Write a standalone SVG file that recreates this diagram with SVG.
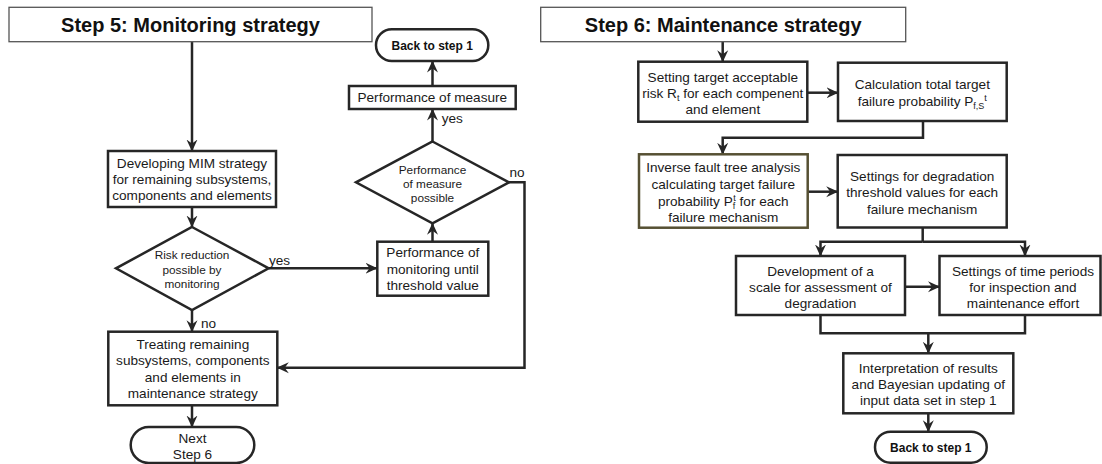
<svg xmlns="http://www.w3.org/2000/svg" width="1102" height="464" viewBox="0 0 1102 464">
<defs>
<marker id="ah" viewBox="0 0 12 12" refX="11.5" refY="6" markerWidth="12" markerHeight="12" markerUnits="userSpaceOnUse" orient="auto">
<path d="M0,0.5 L12,6 L0,11.5 L4,6 Z" fill="#262626"/>
</marker>
<style>
.hd{fill:#fff;stroke:#555;stroke-width:1.3}
.hdt{font-family:"Liberation Sans",Arial,sans-serif;font-weight:bold;font-size:20px;fill:#111;text-anchor:middle}
.bx{fill:#fff;stroke:#262626;stroke-width:2.5}
.ol{fill:#fff;stroke:#565033;stroke-width:2.5}
.t{font-family:"Liberation Sans",Arial,sans-serif;font-size:13.6px;fill:#1a1a1a;text-anchor:middle}
.dt{font-family:"Liberation Sans",Arial,sans-serif;font-size:11.8px;fill:#1a1a1a;text-anchor:middle}
.lb{font-family:"Liberation Sans",Arial,sans-serif;font-size:13.6px;fill:#1a1a1a}
.tb{font-family:"Liberation Sans",Arial,sans-serif;font-size:12px;font-weight:bold;fill:#111;text-anchor:middle}
.sub{font-size:9px}
.c{fill:none;stroke:#262626;stroke-width:2.5}
.ca{fill:none;stroke:#262626;stroke-width:2.5;marker-end:url(#ah)}
</style>
</defs>
<rect width="1102" height="464" fill="#fff"/>

<g id="connectors">
<path class="ca" d="M192,41.7 V151"/>
<path class="ca" d="M192,207 V227"/>
<path class="ca" d="M268.6,268.3 H377"/>
<path class="ca" d="M432.5,241.7 V223.3"/>
<path class="ca" d="M432.5,141.5 V109"/>
<path class="ca" d="M432.5,86 V61"/>
<path class="ca" d="M509,182.3 H524.5 V367.7 H277.3"/>
<path class="ca" d="M192,310 V331.7"/>
<path class="ca" d="M192,405.3 V427"/>
<path class="ca" d="M722.7,41.7 V61.7"/>
<path class="ca" d="M807.3,92.7 H838"/>
<path class="ca" d="M923,121 V137.7 H722.7 V154.3"/>
<path class="ca" d="M807.7,191.7 H837.7"/>
<path class="c" d="M922.7,227.5 V241.7"/>
<path class="ca" d="M922.7,241.7 H820.5 V256"/>
<path class="ca" d="M922.7,241.7 H1025 V256"/>
<path class="ca" d="M905,286.7 H939.5"/>
<path class="c" d="M820.5,315 V333.3 H1025 V315"/>
<path class="ca" d="M928.3,333.3 V353.3"/>
<path class="ca" d="M928.3,413.3 V431.7"/>
</g>

<g id="header5">
<rect class="hd" x="9" y="7.3" width="363" height="34.4"/>
<text class="hdt" x="190.5" y="31.5">Step 5: Monitoring strategy</text>
</g>
<g id="header6">
<rect class="hd" x="540.7" y="7.3" width="365" height="34.4"/>
<text class="hdt" x="723.2" y="31.5">Step 6: Maintenance strategy</text>
</g>

<g id="developing">
<rect class="bx" x="108" y="151" width="168" height="56"/>
<text class="t" x="192" y="167.5">Developing MIM strategy</text>
<text class="t" x="192" y="183.8">for remaining subsystems,</text>
<text class="t" x="192" y="200.1">components and elements</text>
</g>
<g id="riskdiamond">
<polygon class="bx" points="192,227 268.6,268.3 192,310 116,268.3"/>
<text class="dt" x="192" y="259.2">Risk reduction</text>
<text class="dt" x="192" y="273.5">possible by</text>
<text class="dt" x="192" y="288.2">monitoring</text>
</g>
<g id="monitoring">
<rect class="bx" x="377.3" y="241.7" width="111" height="54"/>
<text class="t" x="432.8" y="257.2">Performance of</text>
<text class="t" x="432.8" y="273.5">monitoring until</text>
<text class="t" x="432.8" y="289.8">threshold value</text>
</g>
<g id="measurediamond">
<polygon class="bx" points="432.5,141.5 509,182.3 432.5,223.3 356,182.3"/>
<text class="dt" x="432.5" y="173.5">Performance</text>
<text class="dt" x="432.5" y="187.5">of measure</text>
<text class="dt" x="432.5" y="201.5">possible</text>
</g>
<g id="measure">
<rect class="bx" x="349" y="86" width="166.7" height="23"/>
<text class="t" x="432.3" y="102.3">Performance of measure</text>
</g>
<g id="back1">
<rect class="bx" x="376" y="29.3" width="112.3" height="31.7" rx="15.8"/>
<text class="tb" x="432.2" y="49.5">Back to step 1</text>
</g>
<g id="treating">
<rect class="bx" x="108.3" y="331.7" width="169" height="73.6"/>
<text class="t" x="192.8" y="348.8">Treating remaining</text>
<text class="t" x="192.8" y="365.1">subsystems, components</text>
<text class="t" x="192.8" y="381.5">and elements in</text>
<text class="t" x="192.8" y="397.8">maintenance strategy</text>
</g>
<g id="next6">
<rect class="bx" x="130.7" y="427" width="123.6" height="36" rx="18"/>
<text class="t" x="192.5" y="443">Next</text>
<text class="t" x="192.5" y="459">Step 6</text>
</g>
<g id="labels">
<text class="lb" x="269" y="264.8">yes</text>
<text class="lb" x="441.7" y="122.5">yes</text>
<text class="lb" x="509.5" y="177">no</text>
<text class="lb" x="201" y="327.8">no</text>
</g>

<g id="settingrisk">
<rect class="bx" x="638.3" y="61.7" width="169" height="60"/>
<text class="t" x="722.8" y="81.5">Setting target acceptable</text>
<text class="t" x="722.8" y="97.5">risk R<tspan class="sub" dy="3">t</tspan><tspan dy="-3"> for each compenent</tspan></text>
<text class="t" x="722.8" y="114">and element</text>
</g>
<g id="calculation">
<rect class="bx" x="838" y="62.7" width="168.7" height="58.3"/>
<text class="t" x="922.3" y="89">Calculation total target</text>
<text class="t" x="922.3" y="106.4">failure probability P<tspan class="sub" dy="3">f,S</tspan><tspan class="sub" dy="-8">t</tspan></text>
</g>
<g id="inverse">
<rect class="ol" x="639" y="154.3" width="168.7" height="73.4"/>
<text class="t" x="723.3" y="172">Inverse fault tree analysis</text>
<text class="t" x="723.3" y="188.8">calculating target failure</text>
<text class="t" x="723.3" y="205.5">probability P<tspan class="sub" dy="3">f</tspan><tspan class="sub" dy="-8" dx="-2">t</tspan><tspan dy="5"> for each</tspan></text>
<text class="t" x="723.3" y="222">failure mechanism</text>
</g>
<g id="degradation">
<rect class="bx" x="837.7" y="155" width="169" height="72.5"/>
<text class="t" x="922.2" y="180.8">Settings for degradation</text>
<text class="t" x="922.2" y="197">threshold values for each</text>
<text class="t" x="922.2" y="213.8">failure mechanism</text>
</g>
<g id="scale">
<rect class="bx" x="736" y="256" width="169" height="59"/>
<text class="t" x="820.5" y="275.5">Development of a</text>
<text class="t" x="820.5" y="291.5">scale for assessment of</text>
<text class="t" x="820.5" y="308">degradation</text>
</g>
<g id="timeperiods">
<rect class="bx" x="939.5" y="256" width="161" height="59"/>
<text class="t" x="1023" y="275.5">Settings of time periods</text>
<text class="t" x="1023" y="291.5">for inspection and</text>
<text class="t" x="1023" y="308">maintenance effort</text>
</g>
<g id="interpretation">
<rect class="bx" x="843.3" y="353.3" width="170" height="60"/>
<text class="t" x="928.3" y="373">Interpretation of results</text>
<text class="t" x="928.3" y="388.8">and Bayesian updating of</text>
<text class="t" x="928.3" y="404.8">input data set in step 1</text>
</g>
<g id="back2">
<rect class="bx" x="875" y="431.7" width="111.7" height="31" rx="15.5"/>
<text class="tb" x="930.8" y="451.5">Back to step 1</text>
</g>
</svg>
